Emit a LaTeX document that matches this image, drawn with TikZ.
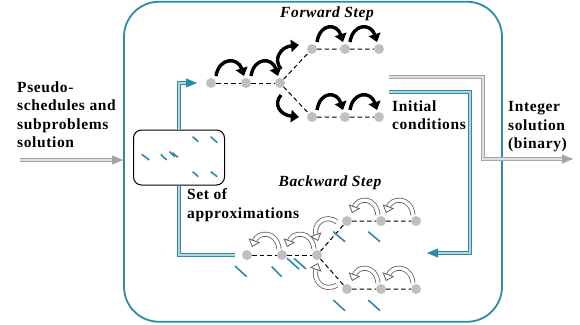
\documentclass[tikz,border=0pt]{standalone}
\usepackage{fontspec}
\setmainfont{Liberation Serif}
\newfontfamily\tnrfont{Liberation Serif}[LetterSpace=4]
\usetikzlibrary{arrows.meta,calc}
\definecolor{teal1}{RGB}{46,139,165}
\definecolor{dotgray}{RGB}{192,192,192}
\definecolor{arrgray}{RGB}{165,165,165}
\definecolor{hollowgray}{RGB}{95,95,95}
\newcommand\hollowarr[4]{%
  \path #4 coordinate (hA) #3 coordinate (hC);
  \draw[draw=hollowgray, double=white, double distance=3.4pt, line width=0.8pt, shorten >=5pt] #1 .. controls #2 and #3 .. #4;
  \draw[draw=hollowgray, line width=0.8pt, -{Triangle[fill=white,length=7pt,width=12pt]}] ($(hA)!1pt!(hC)$) -- (hA);
}
\begin{document}
\begin{tikzpicture}[x=1pt,y=-1pt,
  lbl/.style={font=\tnrfont\fontsize{15.5}{18.5}\selectfont\bfseries, align=left, inner sep=0pt, anchor=north west},
  ttl/.style={font=\tnrfont\fontsize{15.5}{18}\selectfont\bfseries\itshape, inner sep=0pt, anchor=base},
  dotn/.style={circle, fill=dotgray, draw=none, minimum size=10pt, inner sep=0pt},
  dline/.style={line width=1pt, dash pattern=on 4.5pt off 3pt},
  fwd/.style={line width=3.4pt, -{Triangle[length=8pt,width=12pt]}},
  tealdbl/.style={draw=teal1, double=teal1!35, double distance=1.6pt, line width=0.9pt},
  graydbl/.style={draw=arrgray, double=arrgray!35, double distance=1.6pt, line width=0.9pt},
  tealtip/.style={teal1, line width=0.9pt, -{Triangle[length=11pt,width=9pt]}},
  graytip/.style={arrgray, line width=0.9pt, -{Triangle[length=11pt,width=9pt]}},
  slash/.style={teal1, line width=1.6pt},
]
\useasboundingbox (0,0) rectangle (580,324);

% frame
\node[draw=teal1, line width=1.8pt, rounded corners=35pt, minimum width=378pt, minimum height=320pt, inner sep=0pt] (frame) at (313,161.75) {};

% approximation box
\node[draw, line width=1pt, rounded corners=8pt, minimum width=91pt, minimum height=55pt, inner sep=0pt] (box) at (179,157.5) {};

% dots forward
\node[dotn] (f1) at (211,83) {};
\node[dotn] (f2) at (246,83) {};
\node[dotn] (f3) at (280,83) {};
\node[dotn] (fu1) at (312,49) {};
\node[dotn] (fu2) at (345,49) {};
\node[dotn] (fu3) at (379,49) {};
\node[dotn] (fl1) at (312,117) {};
\node[dotn] (fl2) at (345,117) {};
\node[dotn] (fl3) at (379,117) {};
% dots backward
\node[dotn] (b1) at (247,255) {};
\node[dotn] (b2) at (282,255) {};
\node[dotn] (b3) at (317,255) {};
\node[dotn] (bu1) at (347,221) {};
\node[dotn] (bu2) at (381,221) {};
\node[dotn] (bu3) at (416,221) {};
\node[dotn] (bl1) at (347,289) {};
\node[dotn] (bl2) at (381,289) {};
\node[dotn] (bl3) at (416,289) {};

% dashed links
\draw[dline] (f1) -- (f2) -- (f3);
\draw[dline] (f3) -- (fu1) -- (fu2) -- (fu3);
\draw[dline] (f3) -- (fl1) -- (fl2) -- (fl3);
\draw[dline] (b1) -- (b2) -- (b3);
\draw[dline] (b3) -- (bu1) -- (bu2) -- (bu3);
\draw[dline] (b3) -- (bl1) -- (bl2) -- (bl3);

% forward arrows
\draw[fwd] (216,76) .. controls (219,57) and (238,57) .. (244,76);
\draw[fwd] (251,76) .. controls (254,57) and (272,57) .. (278,76);
\draw[fwd] (317,42) .. controls (320,23) and (337,23) .. (343,42);
\draw[fwd] (350,42) .. controls (353,23) and (371,23) .. (377,42);
\draw[fwd] (317,110) .. controls (320,91) and (337,91) .. (343,110);
\draw[fwd] (350,110) .. controls (353,91) and (371,91) .. (377,110);
\draw[fwd] (281,69) .. controls (273,60) and (280,47) .. (299,45);
\draw[fwd] (281,95) .. controls (273,104) and (280,115) .. (299,117);

% backward arrows
\hollowarr{(279,249)}{(277,231)}{(258,230)}{(252,247)}
\hollowarr{(314,249)}{(312,231)}{(293,230)}{(287,247)}
\hollowarr{(378,215)}{(376,197)}{(358,196)}{(352,213)}
\hollowarr{(413,215)}{(411,197)}{(392,196)}{(386,213)}
\hollowarr{(378,283)}{(376,265)}{(358,264)}{(352,281)}
\hollowarr{(413,283)}{(411,265)}{(392,264)}{(386,281)}
\hollowarr{(337,222)}{(325,213)}{(312,224)}{(318,241)}
\hollowarr{(337,285)}{(323,293)}{(312,280)}{(318,263)}

% slashes in box
\draw[slash] (141.7,154.3) -- (149.3,160);
\draw[slash] (160.7,154.3) -- (166.7,160);
\draw[slash] (169.3,151.7) -- (175,156.7);
\draw[slash] (172.3,152.7) -- (178,157.3);
\draw[slash] (192.7,136.7) -- (198.3,141.7);
\draw[slash] (210.7,136.7) -- (217.3,142.7);
\draw[slash] (192.7,171.7) -- (198.3,176.7);
\draw[slash] (210.7,171.7) -- (217.3,176.7);
% slashes backward
\draw[slash] (235,266) -- (246.7,276.7);
\draw[slash] (271.7,266.7) -- (281.7,276.7);
\draw[slash] (287,258.3) -- (299,269);
\draw[slash] (294,258.3) -- (306,269);
\draw[slash] (333.3,231.7) -- (345,241.7);
\draw[slash] (368.3,231.7) -- (380,241.7);
\draw[slash] (333.3,300) -- (345,310.7);
\draw[slash] (368.3,300) -- (380,310.7);

% connectors
\coordinate (fin) at (197,83);
\coordinate (bout) at (235,255);
\draw[tealdbl, shorten >=8pt] (box.north) |- (fin);
\draw[tealtip] ($(fin)+(-1,0)$) -- (fin);
\draw[tealdbl] (box.south) |- (bout);

\coordinate (ins) at (20,160);
\coordinate (ine) at (123,160);
\draw[graydbl, shorten >=8pt] (ins) -- (ine);
\draw[graytip] ($(ine)+(-1,0)$) -- (ine);

\coordinate (outs) at (389,77);
\coordinate (oute) at (573,159);
\draw[graydbl, shorten >=8pt] (outs) -- (483,77) |- (oute);
\draw[graytip] ($(oute)+(-1,0)$) -- (oute);

\coordinate (rets) at (389,92);
\coordinate (rete) at (427,253);
\draw[tealdbl, shorten >=8pt] (rets) -- (470,92) |- (rete);
\draw[tealtip] ($(rete)+(1,0)$) -- (rete);

% texts
\node[lbl] (tin) at (17,81.5) {Pseudo-\\schedules and\\subproblems\\solution};
\node[lbl] (tini) at (392,100.5) {Initial\\conditions};
\node[lbl] (tint) at (508,101.5) {Integer\\solution\\(binary)};
\node[lbl] (tset) at (187,188.5) {Set of\\approximations};
\node[ttl] (tfw) at (327,17) {Forward Step};
\node[ttl] (tbw) at (330,186) {Backward Step};
\end{tikzpicture}
\end{document}
